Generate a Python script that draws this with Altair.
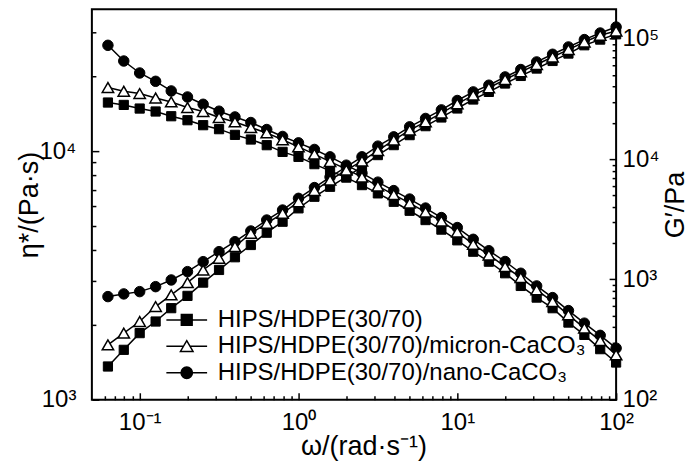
import altair as alt
import pandas as pd

# ---------------- data ----------------
omega = [0.0631, 0.0794, 0.1, 0.126, 0.158, 0.2, 0.251, 0.316, 0.398, 0.501,
         0.631, 0.794, 1.0, 1.26, 1.58, 2.0, 2.51, 3.16, 3.98, 5.01,
         6.31, 7.94, 10.0, 12.6, 15.8, 20.0, 25.1, 31.6, 39.8, 50.1,
         63.1, 79.4, 100.0]

series_names = ["HIPS/HDPE(30/70)",
                "HIPS/HDPE(30/70)/micron-CaCO₃",
                "HIPS/HDPE(30/70)/nano-CaCO₃"]

eta_neat = [15690, 15350, 14840, 14440, 13820, 13320, 12720, 12260, 11630, 11140,
            10570, 9935, 9487, 8867, 8334, 7828, 7302, 6764, 6258, 5758,
            5283, 4835, 4379, 3941, 3593, 3228, 2870, 2576, 2335, 2044,
            1824, 1598, 1412]
eta_micron = [18030, 17420, 17050, 16370, 15780, 14980, 14440, 13660, 13110, 12450,
              11840, 11120, 10410, 9726, 9075, 8466, 7864, 7235, 6689, 6183,
              5689, 5235, 4729, 4220, 3823, 3430, 3099, 2766, 2482, 2195,
              1941, 1730, 1516]
eta_nano = [26660, 23050, 20630, 19100, 17470, 16520, 15440, 14480, 13730, 13040,
            12220, 11460, 10800, 10160, 9487, 8784, 8158, 7506, 6940, 6417,
            5903, 5406, 4929, 4420, 3977, 3599, 3228, 2870, 2576, 2284,
            2033, 1816, 1613]

g_neat = [189, 260, 358, 447, 577, 730, 941, 1199, 1529, 1933,
          2446, 3018, 3898, 4866, 5890, 7130, 8632, 10800, 13070, 15820,
          18790, 22190, 26360, 31290, 36190, 42490, 49120, 56590, 65440, 75380,
          88330, 98480, 109000]
g_micron = [286, 358, 447, 595, 744, 941, 1199, 1499, 1872, 2418,
            2927, 3543, 4423, 5478, 6695, 8104, 9625, 11760, 14380, 17410,
            20390, 24090, 28770, 33980, 39060, 45850, 53030, 61090, 70620, 81370,
            94070, 106900, 116100]
g_nano = [720, 758, 792, 871, 990, 1161, 1405, 1701, 2059, 2527,
          3117, 3773, 4720, 5800, 7089, 8632, 10450, 12820, 15310, 18540,
          21770, 25660, 30700, 36190, 41130, 48190, 55520, 64200, 74360, 85510,
          98480, 111700, 125300]

# axis ticks and labels
x_ticks = [0.06, 0.07, 0.08, 0.09, 0.1, 0.2, 0.3, 0.4, 0.5, 0.6, 0.7, 0.8, 0.9,
           1, 2, 3, 4, 5, 6, 7, 8, 9, 10, 20, 30, 40, 50, 60, 70, 80, 90, 100]
x_major = [0.1, 1, 10, 100]
x_labels = ["10⁻¹", "10⁰", "10¹", "10²"]

eta_ticks = [1000, 2000, 3000, 4000, 5000, 6000, 7000, 8000, 9000, 10000, 20000, 30000]
eta_major = [1000, 10000]
eta_labels = ["10³", "10⁴"]

g_ticks = [100, 200, 300, 400, 500, 600, 700, 800, 900,
           1000, 2000, 3000, 4000, 5000, 6000, 7000, 8000, 9000,
           10000, 20000, 30000, 40000, 50000, 60000, 70000, 80000, 90000, 100000]
g_major = [100, 1000, 10000, 100000]
g_labels = ["10²", "10³", "10⁴", "10⁵"]

# ---------------- table ----------------
rows = []
for name, eta, g in zip(series_names, [eta_neat, eta_micron, eta_nano], [g_neat, g_micron, g_nano]):
    for w, e, gv in zip(omega, eta, g):
        rows.append({"w": w, "value": e, "series": name, "qty": "eta"})
        rows.append({"w": w, "value": gv, "series": name, "qty": "G"})
df = pd.DataFrame(rows)

FONT = "Liberation Sans"


def label_expr(values, labels):
    parts = [f"datum.value == {v} ? '{t}'" for v, t in zip(values, labels)]
    return " : ".join(parts) + " : ''"


def tick_expr(majors):
    return f"indexof({list(majors)}, datum.value) >= 0 ? -7 : -4"


common_axis = dict(domain=False, grid=False, labelFlush=False, labelOverlap=False,
                   tickColor="black", tickWidth=1.5, labelColor="black",
                   labelFont=FONT, labelFontSize=24, titleFont=FONT, titleFontSize=27,
                   titleFontWeight="normal", titleColor="black")

x_axis = alt.Axis(values=x_ticks, labelExpr=label_expr(x_major, x_labels),
                  tickSize=alt.ExprRef(expr=tick_expr(x_major)),
                  labelPadding=18, title="ω/(rad·s⁻¹)",
                  titleX=272, titleY=55, titleAlign="center", titleBaseline="alphabetic",
                  **common_axis)
eta_axis = alt.Axis(orient="left", values=eta_ticks, labelExpr=label_expr(eta_major, eta_labels),
                    tickSize=alt.ExprRef(expr=tick_expr(eta_major)),
                    labelPadding=23, title="η*/(Pa·s)",
                    titleX=-62, titleY=195.5, titleAngle=270, titleAlign="center",
                    titleBaseline="middle", **common_axis)
g_axis = alt.Axis(orient="right", values=g_ticks, labelExpr=label_expr(g_major, g_labels),
                  tickSize=alt.ExprRef(expr=tick_expr(g_major)),
                  labelPadding=13, title="G′/Pa",
                  titleX=59, titleY=195.5, titleAngle=270, titleAlign="center",
                  titleBaseline="middle", **common_axis)

x_scale = alt.Scale(type="log", domain=[0.05, 100], nice=False)
eta_scale = alt.Scale(type="log", domain=[1000, 37200], nice=False)
g_scale = alt.Scale(type="log", domain=[100, 175700], nice=False)

X = alt.X("w:Q", scale=x_scale, axis=x_axis)
Y_eta = alt.Y("value:Q", scale=eta_scale, axis=eta_axis)
Y_g = alt.Y("value:Q", scale=g_scale, axis=g_axis)

marker_styles = [
    dict(shape="square", fill="black", stroke="black", strokeWidth=1, size=85),
    dict(shape="triangle-up", fill="white", stroke="black", strokeWidth=1.5, size=130),
    dict(shape="circle", fill="black", stroke="black", strokeWidth=1, size=110),
]
draw_order = [0, 2, 1]  # squares, circles, triangles on top

# custom legend symbols: line + marker
legend_paths = [
    "M-3.4,0H3.4M-0.9,-0.9H0.9V0.9H-0.9Z",
    "M-3.4,0H-0.55M0.55,0H3.4M0,-0.95L1.05,0.85L-1.05,0.85Z",
    "M-3.4,0H3.4M-0.95,0A0.95,0.95,0,1,1,0.95,0A0.95,0.95,0,1,1,-0.95,0Z",
]
legend_fills = ["black", "white", "black"]
legend_strokes = ["black", "black", "black"]

legend = alt.Legend(orient="none", legendX=83, legendY=299, title=None,
                    labelFont=FONT, labelFontSize=24, labelColor="black",
                    symbolSize=144, symbolStrokeWidth=1.5, symbolStrokeColor="black",
                    labelOffset=19, rowPadding=2.5, labelLimit=0)


def group(qty, Y, with_legend=False):
    base = alt.Chart(df).transform_filter(alt.datum.qty == qty)
    layers = [base.mark_line(color="black", strokeWidth=1.5).encode(x=X, y=Y, detail="series:N")]
    for i in draw_order:
        st = marker_styles[i]
        layers.append(
            base.transform_filter(alt.datum.series == series_names[i])
            .mark_point(filled=True, opacity=1, **st)
            .encode(x=X, y=Y)
        )
    if with_legend:
        layers.append(
            base.transform_filter("false")
            .mark_point(filled=True, opacity=1, strokeWidth=1.5)
            .encode(
                x=X, y=Y,
                shape=alt.Shape("series:N", scale=alt.Scale(domain=series_names, range=legend_paths), legend=legend),
                fill=alt.Fill("series:N", scale=alt.Scale(domain=series_names, range=legend_fills), legend=legend),
                stroke=alt.Stroke("series:N", scale=alt.Scale(domain=series_names, range=legend_strokes), legend=legend),
            )
        )
    return alt.layer(*layers)


chart = (
    alt.layer(group("eta", Y_eta, with_legend=True), group("G", Y_g))
    .resolve_scale(y="independent")
    .properties(width=525, height=391,
                autosize=alt.AutoSizeParams(type="none"),
                padding={"left": 84, "top": 1, "right": 76, "bottom": 67},
                background="white")
    .configure_view(stroke="black", strokeWidth=2)
)

chart.save("out.html", embed_options={"renderer": "svg", "actions": False})
